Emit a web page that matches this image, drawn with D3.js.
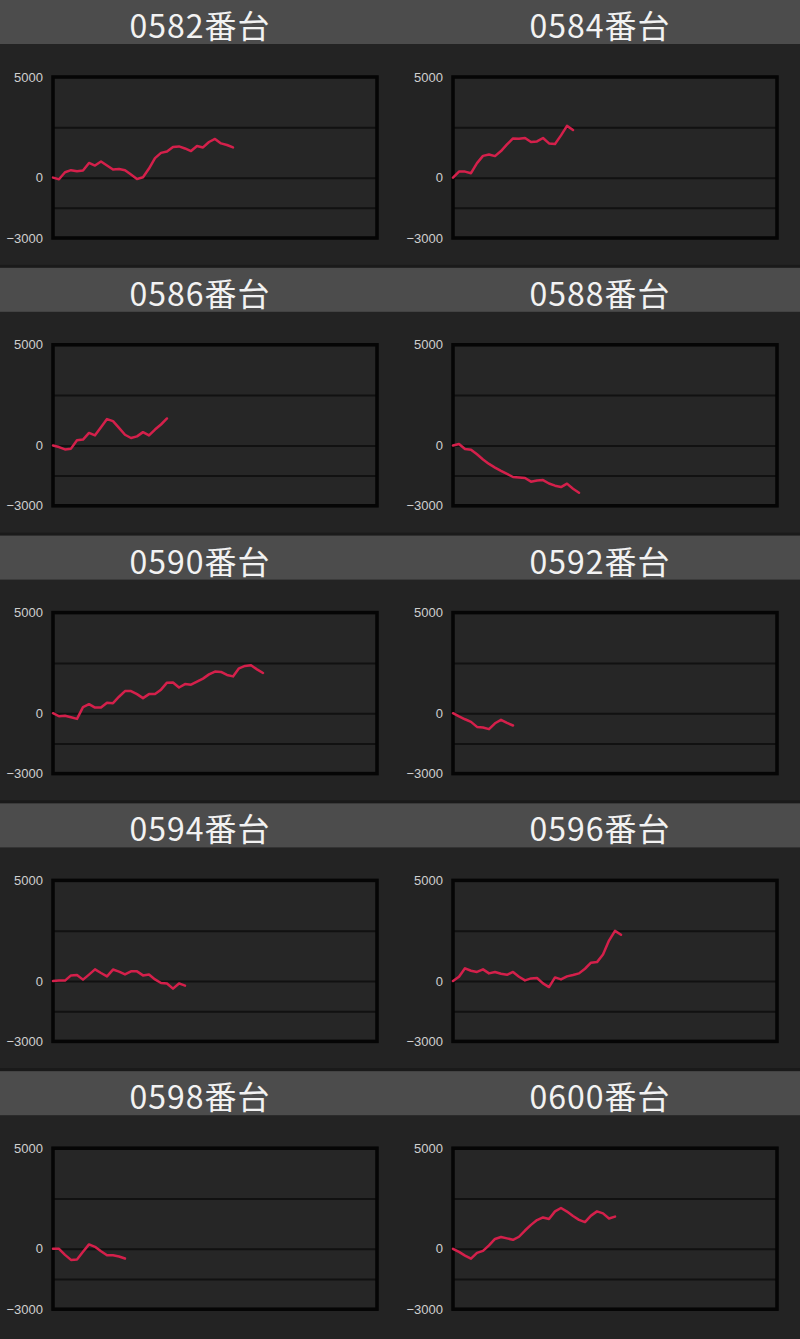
<!DOCTYPE html>
<html>
<head>
<meta charset="utf-8">
<script src="https://cdn.jsdelivr.net/npm/d3@7"></script>
<style>
  html, body { margin: 0; padding: 0; background: #232323; }
  svg { display: block; }
</style>
</head>
<body>
<svg id="chart" width="800" height="1339"></svg>
<script>
// machine numbers shown in the title bars
const titles = ["0582番台", "0584番台", "0586番台", "0588番台", "0590番台",
                "0592番台", "0594番台", "0596番台", "0598番台", "0600番台"];

// coin difference per step
const s0582 = [0, -80, 270, 370, 320, 350, 730, 600, 800, 600, 400, 430, 370, 150, -70, 20,
               450, 970, 1230, 1300, 1520, 1550, 1450, 1320, 1570, 1500, 1770, 1920, 1700, 1620, 1500];
const s0584 = [0, 300, 300, 220, 720, 1080, 1150, 1070, 1320, 1650, 1950, 1930, 1970, 1770,
               1800, 1970, 1700, 1670, 2100, 2570, 2370];
const s0586 = [0, -80, -200, -160, 260, 290, 620, 500, 900, 1310, 1210, 870, 530, 370, 450,
               660, 500, 790, 1040, 1340];
const s0588 = [0, 70, -180, -210, -440, -700, -920, -1100, -1260, -1410, -1570, -1590, -1620,
               -1800, -1740, -1720, -1890, -2000, -2070, -1900, -2150, -2350];
const s0590 = [0, -150, -130, -200, -280, 300, 450, 280, 280, 520, 500, 820, 1100, 1100, 950,
               750, 950, 950, 1170, 1520, 1530, 1280, 1450, 1420, 1570, 1720, 1930, 2070, 2050,
               1900, 1830, 2230, 2350, 2380, 2180, 2000];
const s0592 = [0, -160, -300, -430, -680, -710, -790, -500, -330, -480, -610];
const s0594 = [0, 30, 20, 280, 300, 70, 320, 580, 400, 230, 570, 470, 330, 480, 480, 280, 320,
               80, -100, -120, -380, -120, -230];
const s0596 = [0, 210, 630, 510, 450, 580, 380, 450, 360, 310, 450, 210, 30, 130, 150, -120,
               -300, 180, 80, 230, 300, 380, 610, 910, 940, 1320, 2010, 2490, 2300];
const s0598 = [0, 0, -300, -550, -530, -150, 220, 100, -120, -320, -320, -380, -480];
const s0600 = [0, -150, -340, -490, -200, -100, 170, 490, 590, 520, 450, 600, 910, 1190, 1430,
               1560, 1480, 1860, 2030, 1850, 1630, 1440, 1330, 1650, 1860, 1760, 1510, 1600];

const seriesList = [s0582, s0584, s0586, s0588, s0590, s0592, s0594, s0596, s0598, s0600];

const yDomain = [-3000, 5000];
const gridValues = [2500, 0, -1500];
const labelValues = [5000, 0, -3000];
const maxSteps = 54;

const svg = d3.select("#chart");
const rowH = 1339 / 5;
const colW = 400;
const barH = 44;
const plotW = 324, plotH = 161;

svg.append("rect").attr("width", 800).attr("height", 1339).attr("fill", "#232323");

const x = d3.scaleLinear().domain([0, maxSteps]).range([0, plotW]);
const y = d3.scaleLinear().domain(yDomain).range([plotH, 0]);

const line = d3.line()
    .x((d, i) => x(i))
    .y(d => y(d));

titles.forEach((title, i) => {
    const col = i % 2;
    const row = Math.floor(i / 2);
    const left = col * colW;
    const top = row * rowH;

    const panel = svg.append("g").attr("transform", `translate(${left},${top})`);

    // separator above each row
    if (row > 0) {
        panel.append("rect")
            .attr("x", 0).attr("y", -3)
            .attr("width", colW).attr("height", 3)
            .attr("fill", "#1a1a1a");
    }

    // title bar
    panel.append("rect")
        .attr("x", 0).attr("y", 0)
        .attr("width", colW).attr("height", barH)
        .attr("fill", "#4c4c4c");

    panel.append("text")
        .attr("x", colW / 2)
        .attr("y", 38)
        .attr("text-anchor", "middle")
        .attr("fill", "#f2f2f2")
        .attr("font-family", "'Noto Sans CJK JP', 'Noto Sans', sans-serif")
        .attr("font-size", 32)
        .attr("letter-spacing", 1)
        .text(title);

    // plot area
    const g = panel.append("g").attr("transform", `translate(53,77)`);

    g.append("rect")
        .attr("width", plotW).attr("height", plotH)
        .attr("fill", "#262626");

    // gridlines
    const grid = g.append("g")
        .call(d3.axisLeft(y).tickValues(gridValues).tickSize(-plotW).tickFormat(""));
    grid.select(".domain").remove();
    grid.selectAll("line").attr("stroke", "#111").attr("stroke-width", 2);

    // y labels
    const labels = g.append("g")
        .call(d3.axisLeft(y).tickValues(labelValues).tickSize(0).tickPadding(10).tickFormat(d3.format("d")));
    labels.select(".domain").remove();
    labels.selectAll("text")
        .attr("fill", "#cfcfcf")
        .attr("font-family", "'Liberation Sans', Arial, sans-serif")
        .attr("font-size", 13);

    // frame
    g.append("rect")
        .attr("width", plotW).attr("height", plotH)
        .attr("fill", "none")
        .attr("stroke", "#050505")
        .attr("stroke-width", 3.5);

    // data line
    g.append("path")
        .datum(seriesList[i])
        .attr("fill", "none")
        .attr("stroke", "#d4204b")
        .attr("stroke-width", 2.5)
        .attr("stroke-linejoin", "round")
        .attr("stroke-linecap", "round")
        .attr("d", line);
});
</script>
</body>
</html>
